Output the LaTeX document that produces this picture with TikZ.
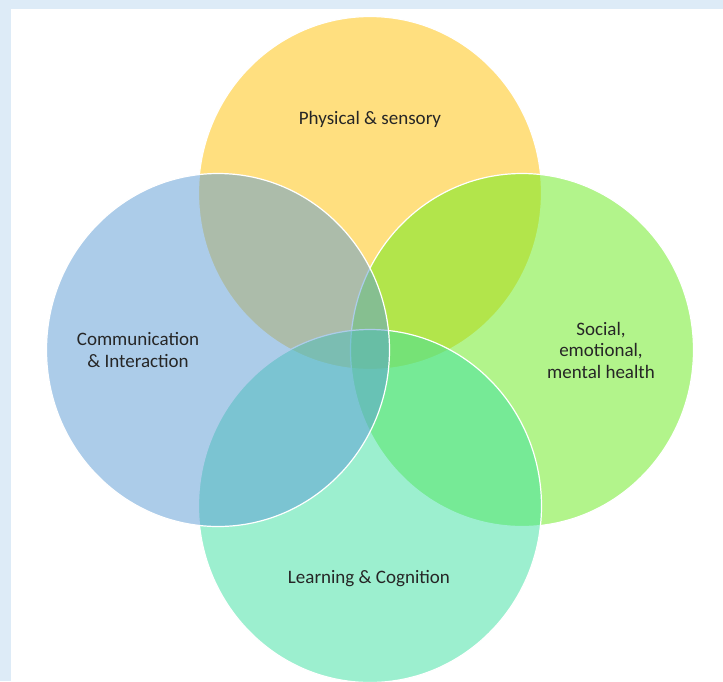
\documentclass[tikz,border=0pt]{standalone}
\usepackage{fontspec}
\setmainfont{Carlito}
\definecolor{framebg}{RGB}{221,235,247}
\definecolor{physc}{RGB}{255,192,0}
\definecolor{commc}{RGB}{91,155,213}
\definecolor{socc}{RGB}{102,235,25}
\definecolor{learnc}{RGB}{59,225,161}
\begin{document}
\begin{tikzpicture}[x=1pt,y=-1pt,
  area/.style={draw=white,line width=1.2pt,fill opacity=0.5},
  lbl/.style={font=\fontsize{19}{21.5}\selectfont,align=center,text=black!85}]
\useasboundingbox (0,0) rectangle (723,681);
\fill[framebg] (0,0) rectangle (723,681);
\fill[white] (11,9) rectangle (723,681);
\begin{scope}
\clip (11,9) rectangle (723,681);
\filldraw[area,fill=physc] (370,193) ellipse [x radius=171.5,y radius=176.5];
\filldraw[area,fill=socc] (522,350) ellipse [x radius=171.5,y radius=176.5];
\filldraw[area,fill=learnc] (370,506) ellipse [x radius=171.5,y radius=176.5];
\filldraw[area,fill=commc] (218,350) ellipse [x radius=171.5,y radius=176.5];
\end{scope}
\node[lbl] (phys) at (370,119) {Physical \& sensory};
\node[lbl] (comm) at (138,350) {Communication\\\& Interaction};
\node[lbl] (soc) at (601,350) {Social,\\emotional,\\mental health};
\node[lbl] (learn) at (369,579) {Learning \& Cognition};
\end{tikzpicture}
\end{document}
